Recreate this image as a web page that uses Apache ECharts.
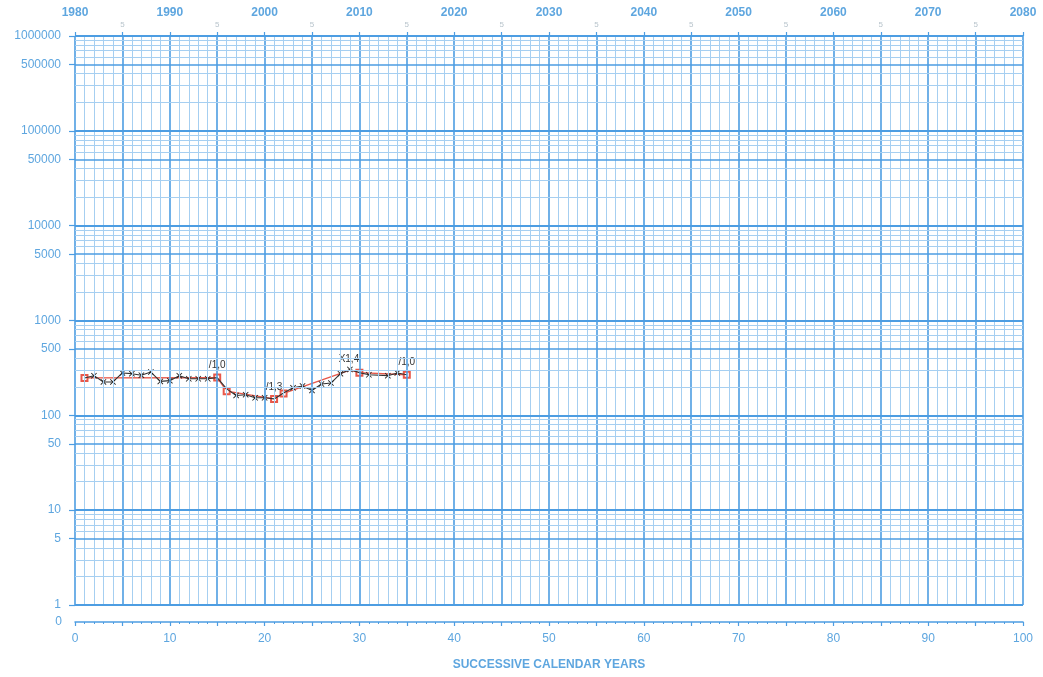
<!DOCTYPE html>
<html><head><meta charset="utf-8">
<script src="https://cdn.jsdelivr.net/npm/echarts@6/dist/echarts.min.js"></script>
<style>html,body{margin:0;padding:0;background:#fff}#c{width:1043px;height:677px}</style>
</head><body><div id="c"></div>
<script>
// ---- data ----
const obsX = [1,2,3,4,5,6,7,8,9,10,11,12,13,14,15,16,17,18,19,20,21,22,23,24,25,26,27,28,29,30,31,33,34,35];
const obsY = [248,262,225,225,280,275,265,286,228,232,262,243,243,243,250,190,162,165,153,153,149,172,195,204,183,214,219,275,305,282,268,262,280,268];
const trendX = [1,15,16,21,22,29,30,35];
const trendY = [248,250,180,149,170,300,282,268];
const trendLabels = {15:'/1,0', 21:'/1,3', 35:'/1,0'};
const obsLabels = {29:'X1,4'};
const squareAt = [1,15,16,21,22,30,35];
const yLabelValues = [1,5,10,50,100,500,1000,5000,10000,50000,100000,500000,1000000];
const xLabelValues = [0,10,20,30,40,50,60,70,80,90,100];
const startYear = 1980;
const xTitle = 'SUCCESSIVE CALENDAR YEARS';

// ---- styles ----
const LINE_MAJ = '#4d9de2';
const LINE_MIN = '#a6cff1';
const TXT = '#5ea6df';

const vLines = [];
for (let i = 0; i <= 100; i++) {
  const major = i % 5 === 0;
  vLines.push({xAxis: i, lineStyle: {color: major ? LINE_MAJ : LINE_MIN, width: major ? 1.6 : 1, type: 'solid'}});
}
const hLines = [];
for (let k = 0; k <= 5; k++) {
  for (let d = 1; d <= 9; d++) {
    const v = d * Math.pow(10, k);
    const w = d === 1 ? 2 : (d === 5 ? 1.6 : 1);
    hLines.push({yAxis: v, lineStyle: {color: (d === 1 || d === 5) ? LINE_MAJ : LINE_MIN, width: w, type: 'solid'}});
  }
}
hLines.push({yAxis: 1e6, lineStyle: {color: LINE_MAJ, width: 2, type: 'solid'}});

const xSymbol = 'path://M0,1L1,0L5,4L9,0L10,1L6,5L10,9L9,10L5,6L1,10L0,9L4,5Z';

const obsData = obsX.map((x, i) => {
  const item = {value: [x, obsY[i]]};
  if (squareAt.includes(x)) item.symbol = 'none';
  if (obsLabels[x]) item.label = {show: true, formatter: obsLabels[x], position: 'top', distance: 2, offset: [-1, 0], color: '#333', fontSize: 10, fontFamily: 'Liberation Sans'};
  return item;
});
const trendData = trendX.map((x, i) => {
  const item = {value: [x, trendY[i]]};
  item.symbol = squareAt.includes(x) ? 'emptyRect' : 'none';
  if (trendLabels[x]) item.label = {show: true, formatter: trendLabels[x], position: 'top', distance: 3, color: '#333', fontSize: 10, fontFamily: 'Liberation Sans'};
  return item;
});

const font = 'Liberation Sans';

const option = {
  animation: false,
  backgroundColor: '#fff',
  grid: {left: 75, right: 20, top: 36, bottom: 72, outerBoundsMode: 'none', containLabel: false},
  xAxis: [
    { // bottom "0" axis
      type: 'value', min: 0, max: 100, interval: 5, position: 'bottom', offset: 17,
      axisLine: {show: true, lineStyle: {color: LINE_MAJ, width: 1.5}},
      axisTick: {show: true, length: 4, lineStyle: {color: LINE_MAJ, width: 1.2}},
      minorTick: {show: true, splitNumber: 5, length: 2, lineStyle: {color: LINE_MAJ}},
      splitLine: {show: false},
      axisLabel: {color: TXT, fontSize: 12, fontFamily: font, margin: 11, customValues: xLabelValues},
      name: '0', nameLocation: 'start', nameGap: 13,
      nameTextStyle: {color: TXT, fontSize: 12, fontFamily: font, verticalAlign: 'middle'}
    },
    { // top years
      type: 'value', min: 0, max: 100, interval: 5, position: 'top',
      axisLine: {show: false},
      axisTick: {show: true, length: 4, lineStyle: {color: LINE_MAJ, width: 1.2}},
      splitLine: {show: false},
      axisLabel: {color: TXT, fontSize: 12, fontWeight: 'bold', fontFamily: font, margin: 17,
        customValues: xLabelValues, formatter: v => String(startYear + v)}
    },
    { // top small "5"
      type: 'value', min: 0, max: 100, interval: 5, position: 'top',
      axisLine: {show: false}, axisTick: {show: false}, splitLine: {show: false},
      axisLabel: {color: '#b8c4cc', fontSize: 8, fontFamily: font, margin: 7,
        customValues: [5,15,25,35,45,55,65,75,85,95], formatter: () => '5'}
    },
    { // title axis
      type: 'value', min: 0, max: 100, position: 'bottom', show: true,
      axisLine: {show: false}, axisTick: {show: false}, axisLabel: {show: false}, splitLine: {show: false},
      name: xTitle, nameLocation: 'middle', nameGap: 54,
      nameTextStyle: {color: TXT, fontSize: 12, fontWeight: 'bold', fontFamily: font}
    }
  ],
  yAxis: [{
    type: 'log', logBase: 10, min: 1, max: 1e6,
    axisLine: {show: false},
    axisTick: {show: true, length: 6, customValues: yLabelValues, lineStyle: {color: LINE_MAJ, width: 1.2}},
    splitLine: {show: false},
    minorSplitLine: {show: false},
    axisLabel: {color: TXT, fontSize: 12, fontFamily: font, margin: 14, customValues: yLabelValues,
      formatter: v => String(Math.round(v))}
  }],
  series: [
    {
      type: 'line', data: [], xAxisIndex: 0, yAxisIndex: 0, z: 1, silent: true,
      markLine: {silent: true, symbol: ['none','none'], label: {show: false}, animation: false, data: vLines.concat(hLines)}
    },
    {
      type: 'line', name: 'trend', data: trendData, xAxisIndex: 0, yAxisIndex: 0, z: 3,
      symbolSize: 6, lineStyle: {color: '#e8584a', width: 1.3},
      itemStyle: {color: '#e8584a', borderColor: '#e8584a'}
    },
    {
      type: 'line', name: 'observed', data: obsData, xAxisIndex: 0, yAxisIndex: 0, z: 4,
      symbol: xSymbol, symbolSize: 6, lineStyle: {color: '#333', width: 1.1},
      itemStyle: {color: '#222', borderWidth: 0}
    }
  ]
};
const chart = echarts.init(document.getElementById('c'), null, {renderer: 'canvas'});
chart.setOption(option);
</script></body></html>
